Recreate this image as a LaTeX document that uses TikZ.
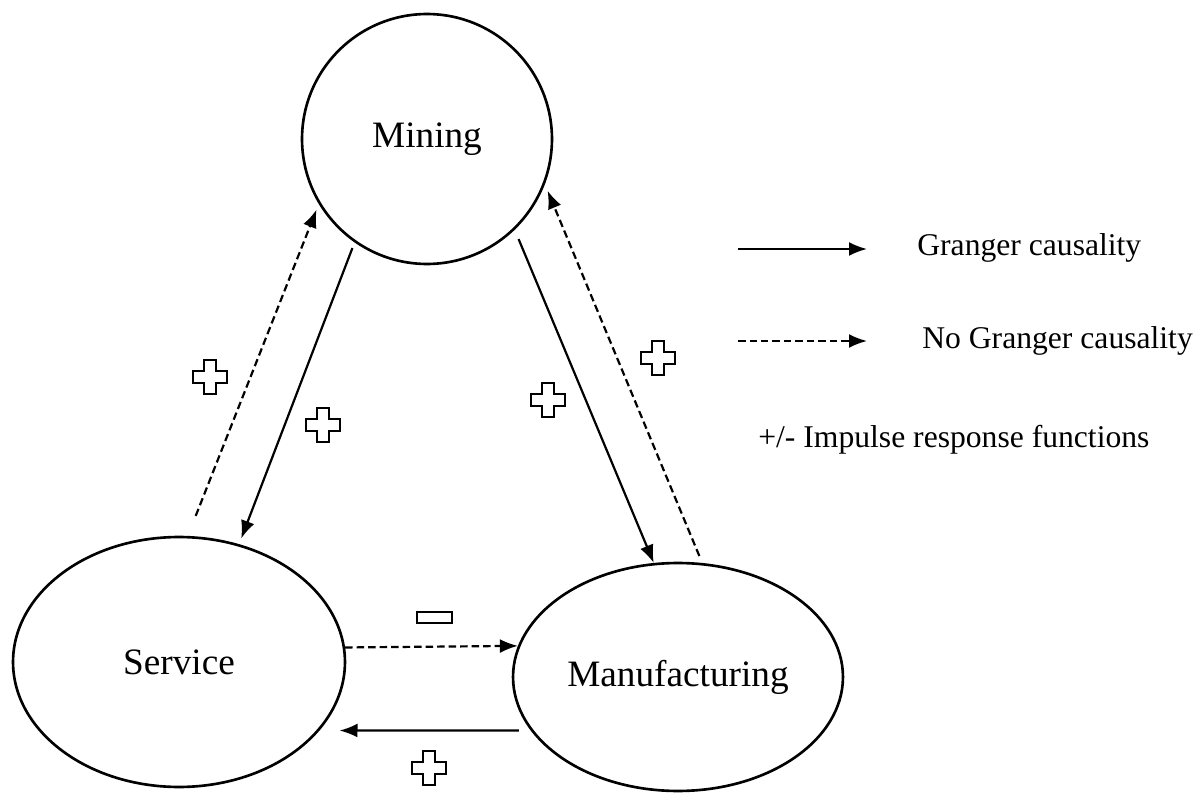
\documentclass[tikz,border=0pt]{standalone}
\usepackage{fontspec}
\setmainfont{Liberation Serif}
\usetikzlibrary{shapes.geometric,arrows.meta,positioning,calc}

\begin{document}
\begin{tikzpicture}[x=0.02cm, y=-0.02cm,
    sector/.style={draw, line width=1.5pt, inner sep=0pt, font=\fontsize{21.2}{25}\selectfont},
    granger/.style={line width=1.25pt, -{Latex[length=0.36cm, width=0.28cm]}},
    nogranger/.style={granger, dash pattern=on 0.15cm off 0.08cm},
    keytext/.style={anchor=west, inner sep=0pt, font=\fontsize{18}{22}\selectfont}]
    \useasboundingbox (0,0) rectangle (1198,794);
    % the three sectors
    \node[sector, circle, minimum size=5cm] (Mining) at (427,139) {Mining};
    \node[sector, ellipse, minimum width=6.64cm, minimum height=5cm] (Service) at (179,662) {Service};
    \node[sector, ellipse, minimum width=6.6cm, minimum height=4.56cm] (Manufacturing) at (678,677) {Manufacturing};
    % causality links
    \draw[granger, shorten <=0.12cm, shorten >=0.12cm] (Mining.235) -- (Service.63);
    \draw[nogranger, shorten <=0.43cm, shorten >=0.12cm] (Service.86) -- (Mining.211);
    \draw[granger, shorten <=0.2cm] (Mining.314) -- (Manufacturing.102);
    \draw[nogranger, shorten <=0.15cm, shorten >=0.14cm] (Manufacturing.78) -- (Mining.339);
    \draw[nogranger] (Service.5) -- (Manufacturing.169.5);
    \draw[granger, shorten <=0.24cm, shorten >=0.4cm] (Manufacturing.200) -- (Service.334);
    % impulse response signs
    \foreach \px/\py in {210/377, 323/425, 548/400, 658/358, 429/768}
        \draw[line width=1.6pt] (\px-6,\py-17) -- ++(12,0) -- ++(0,11) -- ++(11,0) -- ++(0,12) -- ++(-11,0)
            -- ++(0,11) -- ++(-12,0) -- ++(0,-11) -- ++(-11,0) -- ++(0,-12) -- ++(11,0) -- cycle;
    \draw[line width=1.6pt] (417,612) rectangle (452,623);
    % key
    \coordinate (keyA) at (738,249);
    \coordinate (keyB) at (867,249);
    \coordinate (keyC) at (738,341);
    \coordinate (keyD) at (867,341);
    \draw[granger] (keyA) -- (keyB);
    \draw[nogranger] (keyC) -- (keyD);
    \node[keytext] (keyGranger) at (917,248) {Granger causality};
    \node[keytext] (keyNoGranger) at (922,341) {No Granger causality};
    \node[keytext] (keyImpulse) at (758,440) {+/- Impulse response functions};
\end{tikzpicture}
\end{document}
